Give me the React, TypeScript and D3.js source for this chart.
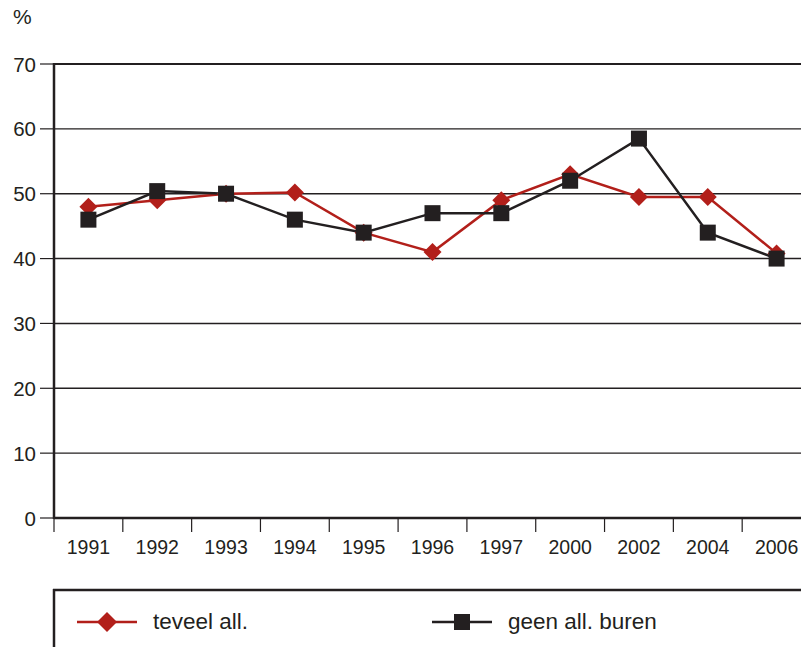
import React from "react";
import * as d3 from "d3";

const years = ["1991", "1992", "1993", "1994", "1995", "1996", "1997", "2000", "2002", "2004", "2006"];
const teveel = [48, 49, 50, 50.2, 44, 41, 49, 53, 49.5, 49.5, 40.8];
const geen = [46, 50.4, 50, 46, 44, 47, 47, 52, 58.5, 44, 40];
const yTicks = [0, 10, 20, 30, 40, 50, 60, 70];
const seriesNames = ["teveel all.", "geen all. buren"];

const W = 801;
const H = 647;
const RED = "#b21f1a";
const DARK = "#231f20";
const FONT = "'Liberation Sans', Arial, Helvetica, sans-serif";

export default function App() {
  const x = d3.scaleBand<string>().domain(years).range([54, 811]);
  const y = d3.scaleLinear().domain([0, 70]).range([518, 64]);
  const cx = (yr: string) => (x(yr) as number) + x.bandwidth() / 2;

  const line = d3
    .line<number>()
    .x((_, i) => cx(years[i]))
    .y((v) => y(v));

  const diamond = (px: number, py: number, r: number) =>
    `M${px},${py - r}L${px + r},${py}L${px},${py + r}L${px - r},${py}Z`;

  const bounds = years.map((yr) => x(yr) as number).concat([811]);

  return (
    <div style={{ position: "fixed", left: 0, top: 0 }}>
      <svg width={W} height={H} style={{ display: "block", background: "#fff" }} fontFamily={FONT}>
        <text x={13} y={24} fontSize={21} fill={DARK}>%</text>
        {yTicks.map((t) => (
          <g key={t}>
            {t !== 0 && (
              <line x1={54} x2={W} y1={y(t)} y2={y(t)} stroke={DARK} strokeWidth={t === 70 ? 2.2 : 1.4} />
            )}
            <line x1={40} x2={54} y1={y(t)} y2={y(t)} stroke={DARK} strokeWidth={1.2} />
            <text x={36} y={y(t) + 7.5} fontSize={20.5} textAnchor="end" fill={DARK}>{t}</text>
          </g>
        ))}
        <line x1={54} x2={W} y1={518} y2={518} stroke={DARK} strokeWidth={2.5} />
        {bounds.map((b, i) => (
          <line key={i} x1={b} x2={b} y1={518} y2={532} stroke={DARK} strokeWidth={1.2} />
        ))}
        {years.map((yr) => (
          <text key={yr} x={cx(yr)} y={553.5} fontSize={19.5} textAnchor="middle" fill={DARK}>{yr}</text>
        ))}
        <line x1={54} x2={54} y1={63} y2={519} stroke={DARK} strokeWidth={2.5} />

        <path d={line(teveel) || ""} fill="none" stroke={RED} strokeWidth={2.5} />
        <path d={line(geen) || ""} fill="none" stroke={DARK} strokeWidth={2.5} />
        {teveel.map((v, i) => (
          <path key={"t" + i} d={diamond(cx(years[i]), y(v), 9)} fill={RED} />
        ))}
        {geen.map((v, i) => (
          <rect key={"g" + i} x={cx(years[i]) - 8} y={y(v) - 8} width={16} height={16} fill={DARK} />
        ))}

        <line x1={53} x2={W} y1={590} y2={590} stroke={DARK} strokeWidth={2.5} />
        <line x1={54} x2={54} y1={589} y2={H} stroke={DARK} strokeWidth={2.5} />
        <line x1={77} x2={137} y1={622} y2={622} stroke={RED} strokeWidth={2.5} />
        <path d={diamond(107, 622, 10)} fill={RED} />
        <text x={153} y={629} fontSize={22.5} fill={DARK}>{seriesNames[0]}</text>
        <line x1={432} x2={492} y1={622} y2={622} stroke={DARK} strokeWidth={2.5} />
        <rect x={454} y={614} width={16} height={16} fill={DARK} />
        <text x={508} y={629} fontSize={22.5} fill={DARK}>{seriesNames[1]}</text>
      </svg>
    </div>
  );
}
